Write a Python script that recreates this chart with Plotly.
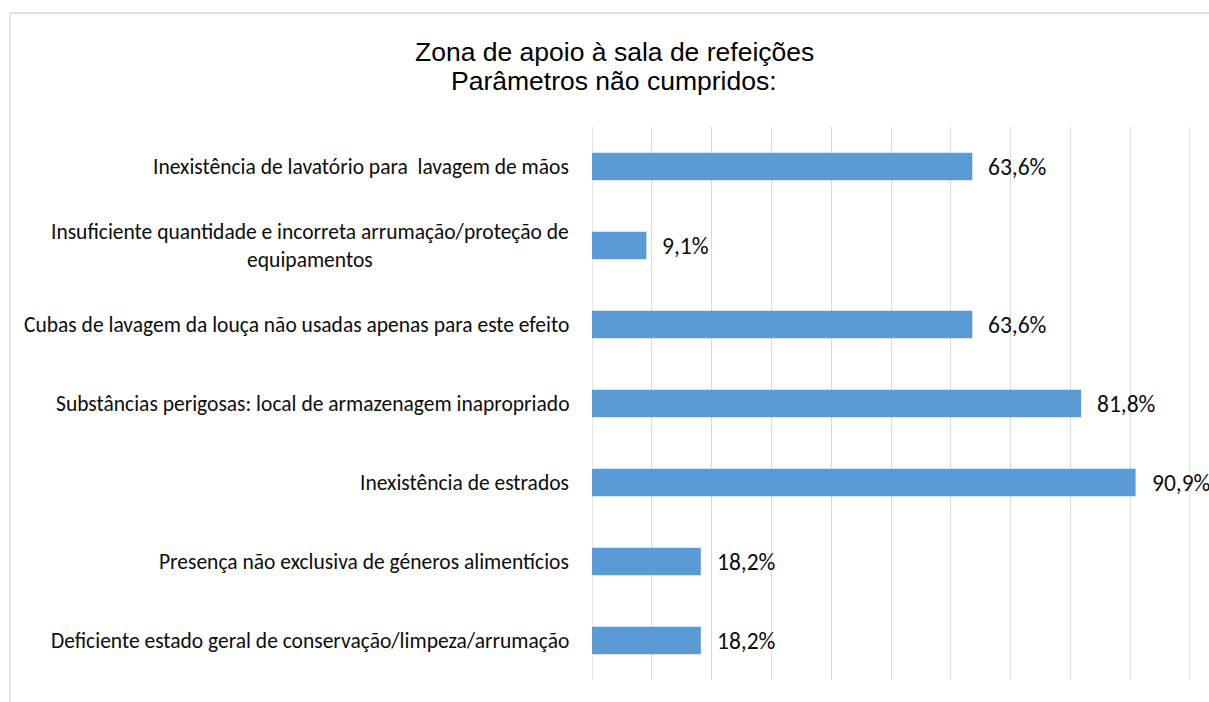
import plotly.graph_objects as go

categories = [
    "Inexistência de lavatório para  lavagem de mãos",
    "Insuficiente quantidade e incorreta arrumação/proteção de<br>equipamentos",
    "Cubas de lavagem da louça não usadas apenas para este efeito",
    "Substâncias perigosas: local de armazenagem inapropriado",
    "Inexistência de estrados",
    "Presença não exclusiva de géneros alimentícios",
    "Deficiente estado geral de conservação/limpeza/arrumação",
]
values = [63.6, 9.1, 63.6, 81.8, 90.9, 18.2, 18.2]
title_lines = ["Zona de apoio à sala de refeições", "Parâmetros não cumpridos:"]
edge_grid = [0, 100]

W, H = 1209, 702
L, R, T, B = 592, 19, 127, 22
PW, PH = W - L - R, H - T - B

def px_x(x):
    return (x - L) / PW

def px_y(y):
    return 1 + (T - y) / PH

label_font = dict(family="Carlito, Calibri, Lato, sans-serif", size=21.5, color="#0d0d0d")
value_font = dict(family="Carlito, Calibri, Lato, sans-serif", size=23.5, color="#0d0d0d")
title_font = dict(family="Liberation Sans, Arial, sans-serif", size=26.5, color="#000000")

fig = go.Figure(
    go.Bar(
        x=values,
        y=categories,
        orientation="h",
        marker=dict(color="#5B9BD5", line=dict(width=0)),
        hoverinfo="skip",
    )
)

annotations = []
for c in categories:
    annotations.append(dict(
        x=0, xref="paper", y=c, yref="y", text=c, showarrow=False,
        xanchor="right", yanchor="middle", align="center", xshift=-21,
        font=label_font,
    ))
for c, v in zip(categories, values):
    annotations.append(dict(
        x=v, xref="x", y=c, yref="y", text=f"{v:.1f}".replace(".", ",") + "%",
        showarrow=False, xanchor="left", yanchor="middle", xshift=14,
        font=value_font,
    ))
for t, py in zip(title_lines, [52, 81]):
    annotations.append(dict(
        x=px_x(614), xref="paper", y=px_y(py), yref="paper", text=t,
        showarrow=False, xanchor="center", yanchor="middle", font=title_font,
    ))

shapes = [
    dict(type="rect", xref="paper", yref="paper",
         x0=px_x(10), x1=px_x(1230), y0=px_y(720), y1=px_y(13),
         line=dict(color="#D9D9D9", width=1.3), fillcolor="rgba(0,0,0,0)", layer="below"),
]
for gx in edge_grid:
    shapes.append(dict(type="line", xref="x", yref="paper", x0=gx, x1=gx, y0=0, y1=1,
                       line=dict(color="#D9D9D9", width=1.3), layer="below"))

fig.update_layout(
    width=W, height=H, autosize=False,
    margin=dict(l=L, r=R, t=T, b=B, pad=0),
    paper_bgcolor="white", plot_bgcolor="white",
    bargap=0.655,
    showlegend=False,
    xaxis=dict(range=[0, 100], dtick=10, tick0=0, showgrid=True, gridcolor="#D9D9D9",
               gridwidth=1.3, zeroline=False, showticklabels=False, showline=False, ticks=""),
    yaxis=dict(autorange="reversed", showticklabels=False, showgrid=False, zeroline=False,
               showline=False, ticks=""),
    annotations=annotations,
    shapes=shapes,
)

fig.write_html("out.html", config={"displayModeBar": False},
               post_script="document.body.style.margin='0';")
